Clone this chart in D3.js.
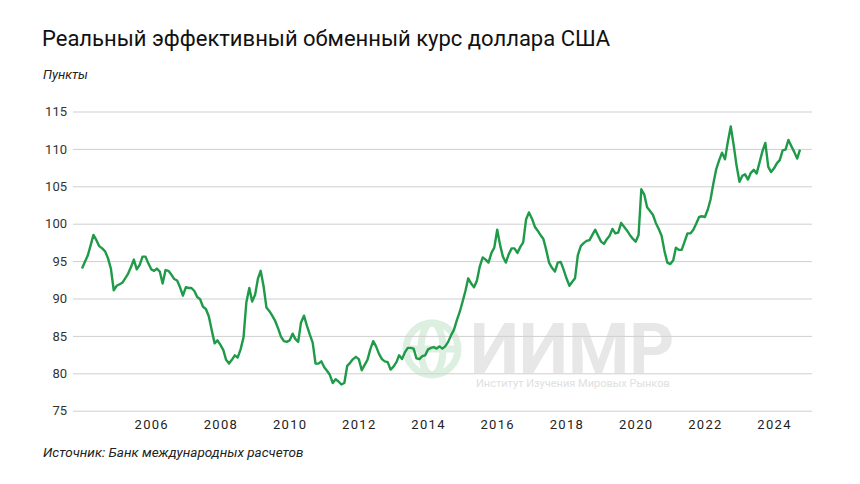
<!DOCTYPE html>
<html><head><meta charset="utf-8">
<script src="https://cdn.jsdelivr.net/npm/d3@7"></script>
<style>
html,body{margin:0;padding:0;background:#fff;}
svg{display:block;font-family:Roboto, "Noto Sans", sans-serif;}
</style></head>
<body>
<svg id="chart" width="860" height="484"></svg>
<script>
// ---- data (monthly, starting Jan 2004) ----
const startYear = 2004, startMonth = 0;
const values = [
94.0,94.9,95.7,97.1,98.5,97.8,97.0,96.7,96.3,95.4,94.0,91.1,
91.7,91.9,92.1,92.7,93.3,94.2,95.2,93.9,94.5,95.6,95.6,94.7,
93.9,93.7,94.0,93.6,92.0,93.8,93.7,93.2,92.6,92.4,91.5,90.4,
91.5,91.4,91.4,91.0,90.2,89.9,88.9,88.6,87.6,85.8,84.0,84.4,
83.8,83.1,81.8,81.3,81.8,82.4,82.1,83.2,84.8,89.5,91.4,89.6,
90.5,92.7,93.7,91.6,88.8,88.3,87.7,87.0,86.0,84.9,84.3,84.2,
84.4,85.3,84.6,84.2,86.8,87.7,86.4,85.2,84.1,81.3,81.3,81.6,
80.8,80.3,79.8,78.7,79.2,78.9,78.5,78.7,81.0,81.4,81.9,82.2,
81.9,80.4,81.1,81.8,83.2,84.3,83.6,82.6,81.9,81.6,81.5,80.5,
80.9,81.5,82.4,81.9,82.8,83.4,83.4,83.3,82.0,81.9,82.3,82.4,
83.2,83.4,83.5,83.3,83.6,83.3,83.6,84.2,85.1,85.8,87.1,88.2,
89.6,91.1,92.7,92.0,91.5,92.4,94.3,95.5,95.2,94.8,96.1,96.8,
99.2,97.1,95.6,94.8,95.9,96.7,96.7,96.1,96.9,97.5,100.6,101.5,
100.7,99.6,99.1,98.5,98.0,96.5,94.8,94.1,93.6,94.8,94.9,93.9,
92.7,91.7,92.2,92.7,95.8,97.0,97.4,97.7,97.8,98.5,99.2,98.4,
97.6,97.3,97.9,98.4,99.3,98.7,98.8,100.1,99.6,99.1,98.5,98.0,
97.6,98.5,104.6,103.9,102.2,101.7,101.2,100.1,99.3,98.4,96.3,94.8,
94.6,95.1,96.8,96.5,96.5,97.6,98.7,98.7,99.2,100.0,100.9,101.0,
100.9,101.9,103.2,105.4,107.3,108.5,109.5,108.6,111.0,113.0,110.5,107.8,
105.6,106.4,106.6,105.9,106.8,107.2,106.7,108.2,109.7,110.8,107.6,106.9,
107.4,108.1,108.5,109.8,109.9,111.2,110.4,109.6,108.7,109.9
];
const yTicks = [75, 80, 85, 90, 95, 100, 105, 110, 115];
const xTickYears = [2006, 2008, 2010, 2012, 2014, 2016, 2018, 2020, 2022, 2024];
const title = "Реальный эффективный обменный курс доллара США";
const unitLabel = "Пункты";
const sourceText = "Источник: Банк международных расчетов";

const series = values.map((v, i) => ({date: d3.timeMonth.offset(new Date(startYear, startMonth, 1), i), value: v}));

const svg = d3.select("#chart");
const gridLeft = 73, gridRight = 812;

const x = d3.scaleTime()
  .domain([new Date(2004, 0, 1), new Date(2024, 9, 1)])
  .range([82, 800]);
const y = d3.scaleLinear().domain([75, 115]).range([410.7, 111.5]);

// title
svg.append("text").attr("x", 42).attr("y", 46)
  .attr("font-size", 22).attr("fill", "#111").attr("font-family", "Roboto, sans-serif")
  .text(title);
svg.append("text").attr("x", 43).attr("y", 79)
  .attr("font-size", 13).attr("font-style", "italic").attr("fill", "#222")
  .text(unitLabel);

// watermark
const wm = svg.append("g");
const gc = {x: 432, y: 349, r: 29};
const globe = wm.append("g").attr("stroke", "#dcefe0").attr("fill", "none").attr("stroke-width", 7);
globe.append("circle").attr("cx", gc.x).attr("cy", gc.y).attr("r", gc.r - 3);
globe.append("line").attr("x1", gc.x - gc.r).attr("x2", gc.x + gc.r).attr("y1", gc.y).attr("y2", gc.y);
globe.append("ellipse").attr("cx", gc.x).attr("cy", gc.y).attr("rx", 11).attr("ry", gc.r - 3);
wm.append("text").attr("x", 470).attr("y", 373)
  .attr("font-size", 70).attr("font-weight", "bold").attr("fill", "#e7e7e7")
  .attr("font-family", "Roboto, sans-serif").text("ИИМР");
wm.append("text").attr("x", 476).attr("y", 387)
  .attr("font-size", 11).attr("fill", "#e0e0e0").text("Институт Изучения Мировых Рынков");

// y axis + grid
const yAxis = svg.append("g").attr("transform", `translate(${gridLeft},0)`)
  .call(d3.axisLeft(y).tickValues(yTicks).tickSizeInner(-(gridRight - gridLeft)).tickSizeOuter(0).tickPadding(6));
yAxis.select(".domain").remove();
yAxis.selectAll(".tick line").attr("stroke", "#cfcfcf").attr("stroke-width", 1);
yAxis.selectAll(".tick text").attr("font-size", 13).attr("fill", "#333")
  .attr("font-family", "Roboto, sans-serif");

// x axis
const xAxis = svg.append("g").attr("transform", `translate(0,${y(75)})`)
  .call(d3.axisBottom(x).tickValues(xTickYears.map(yr => new Date(yr, 0, 1)))
    .tickFormat(d3.timeFormat("%Y")).tickSize(0).tickPadding(9));
xAxis.select(".domain").remove();
xAxis.selectAll(".tick text").attr("font-size", 13).attr("fill", "#222")
  .attr("letter-spacing", "1.3px").attr("font-family", "Roboto, sans-serif");

// line
const line = d3.line().x(d => x(d.date)).y(d => y(d.value)).curve(d3.curveLinear);
svg.append("path").datum(series)
  .attr("d", line).attr("fill", "none").attr("stroke", "#1f9a48")
  .attr("stroke-width", 2.4).attr("stroke-linejoin", "round");

// source
svg.append("text").attr("x", 43).attr("y", 457)
  .attr("font-size", 13.5).attr("font-style", "italic").attr("fill", "#222")
  .text(sourceText);
</script>
</body></html>
